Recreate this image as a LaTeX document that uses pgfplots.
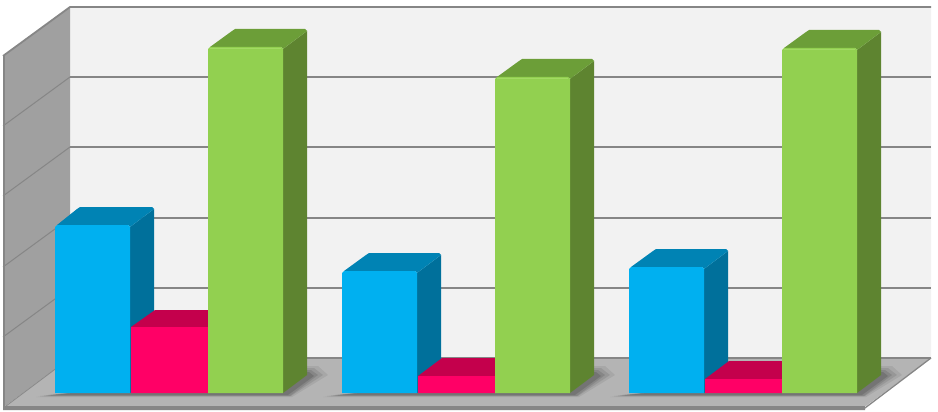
\documentclass[border=0pt]{standalone}
\usepackage{pgfplots}
\usepackage{pgfplotstable}
\pgfplotsset{compat=1.18}
\definecolor{wall}{RGB}{242,242,242}
\definecolor{sidewall}{RGB}{160,160,160}
\definecolor{floorc}{RGB}{180,180,180}
\definecolor{edge}{RGB}{134,134,134}
\definecolor{bluef}{RGB}{0,176,240}
\definecolor{bluet}{RGB}{0,131,180}
\definecolor{blues}{RGB}{0,112,155}
\definecolor{redf}{RGB}{255,0,102}
\definecolor{redt}{RGB}{196,0,76}
\definecolor{greenf}{RGB}{146,208,80}
\definecolor{greenh}{RGB}{162,218,100}
\definecolor{greent}{RGB}{108,158,56}
\definecolor{greens}{RGB}{94,132,48}
\pgfplotstableread{
x y
36 397
292 397
328 375
318 366
290 366
36 397
}\shadowA
\pgfplotstableread{
x y
40 396
291 396
323 375
314 368
290 368
40 396
}\shadowB
\pgfplotstableread{
x y
44 396
290 396
318 375
311 370
290 370
44 396
}\shadowC
\pgfplotstableread{
x y
48 395
288 395
314 376
309 372
290 372
48 395
}\shadowD
\begin{document}
\begin{tikzpicture}
\begin{axis}[
    scale only axis,
    width=938pt,
    height=412pt,
    xmin=0, xmax=938,
    ymin=0, ymax=412,
    y dir=reverse,
    hide axis,
    every axis plot/.append style={forget plot, no markers, line join=round},
]
% page background, keeps the full frame
\addplot[fill=white, draw=none] coordinates {(0,0) (938,0) (938,412) (0,412) (0,0)};
% walls and floor
\addplot[fill=wall, draw=none] coordinates {(70,7) (931,7) (931,358) (70,358) (70,7)};
\addplot[fill=sidewall, draw=none] coordinates {(4,56) (70,7) (70,358) (4,407) (4,56)};
\addplot[fill=floorc, draw=none] coordinates {(6,406) (70,358) (931,358) (866,406) (6,406)};
\addplot[fill=edge, draw=none] coordinates {(3,406) (865,406) (865,410) (3,410) (3,406)};
\addplot[edge, line width=1.3pt] coordinates {(931,358) (865,408)};
\addplot[edge, line width=1.2pt] coordinates {(70,358) (931,358)};
\addplot[edge, line width=0.8pt] coordinates {(70,358) (6,406)};
\addplot[edge, line width=1.5pt] coordinates {(4,56) (4,407)};
% grid: back wall and side wall
\addplot[edge, line width=1.8pt] coordinates {(3,56) (70,7) (931,7)};
\addplot[edge, line width=1pt] coordinates {(3,126) (70,77)};
\addplot[edge, line width=1pt] coordinates {(3,196) (70,147)};
\addplot[edge, line width=1pt] coordinates {(3,267) (70,218)};
\addplot[edge, line width=1pt] coordinates {(3,337) (70,288)};
\addplot[edge, line width=1.8pt] coordinates {(70,77) (931,77)};
\addplot[edge, line width=1.8pt] coordinates {(70,147) (931,147)};
\addplot[edge, line width=1.8pt] coordinates {(70,218) (931,218)};
\addplot[edge, line width=1.8pt] coordinates {(70,288) (931,288)};
% shadows on the floor, one per group
\pgfplotsinvokeforeach{0,287,574}{
\addplot[fill=black, fill opacity=0.07, draw=none] table[x expr=\thisrow{x}+#1, y=y] {\shadowA};
\addplot[fill=black, fill opacity=0.09, draw=none] table[x expr=\thisrow{x}+#1, y=y] {\shadowB};
\addplot[fill=black, fill opacity=0.11, draw=none] table[x expr=\thisrow{x}+#1, y=y] {\shadowC};
\addplot[fill=black, fill opacity=0.13, draw=none] table[x expr=\thisrow{x}+#1, y=y] {\shadowD};
}
% group 1
\addplot[fill=blues, draw=none] coordinates {(130,227) (154,209) (154,375) (130,393) (130,227)};
\addplot[fill=bluet, draw=none] coordinates {(57,225) (77,209) (80,207) (152,207) (154,209) (130,227) (128,225) (57,225)};
\addplot[fill=bluef, draw=none] coordinates {(55,227) (57,225) (128,225) (130,227) (130,393) (55,393) (55,227)};
\addplot[fill=redt, draw=none] coordinates {(131,327) (155,310) (208,310) (208,327) (131,327)};
\addplot[fill=redf, draw=none] coordinates {(131,327) (208,327) (208,393) (131,393) (131,327)};
\addplot[fill=greens, draw=none] coordinates {(283,49) (307,31) (307,375) (283,393) (283,49)};
\addplot[fill=greent, draw=none] coordinates {(210,47) (232,31) (235,29) (305,29) (307,31) (283,49) (281,47) (210,47)};
\addplot[fill=greenf, draw=none] coordinates {(208,49) (210,47) (281,47) (283,49) (283,393) (208,393) (208,49)};
\addplot[greenh, line width=1pt] coordinates {(210,48.5) (281,48.5)};
% group 2
\addplot[fill=blues, draw=none] coordinates {(417,273) (441,255) (441,375) (417,393) (417,273)};
\addplot[fill=bluet, draw=none] coordinates {(344,271) (366,255) (369,253) (439,253) (441,255) (417,273) (415,271) (344,271)};
\addplot[fill=bluef, draw=none] coordinates {(342,273) (344,271) (415,271) (417,273) (417,393) (342,393) (342,273)};
\addplot[fill=redt, draw=none] coordinates {(418,376) (442,358) (495,358) (495,376) (418,376)};
\addplot[fill=redf, draw=none] coordinates {(418,376) (495,376) (495,393) (418,393) (418,376)};
\addplot[fill=greens, draw=none] coordinates {(570,79) (594,61) (594,375) (570,393) (570,79)};
\addplot[fill=greent, draw=none] coordinates {(497,77) (519,61) (522,59) (592,59) (594,61) (570,79) (568,77) (497,77)};
\addplot[fill=greenf, draw=none] coordinates {(495,79) (497,77) (568,77) (570,79) (570,393) (495,393) (495,79)};
\addplot[greenh, line width=1pt] coordinates {(497,78.5) (568,78.5)};
% group 3
\addplot[fill=blues, draw=none] coordinates {(704,269) (728,251) (728,375) (704,393) (704,269)};
\addplot[fill=bluet, draw=none] coordinates {(631,267) (653,251) (656,249) (726,249) (728,251) (704,269) (702,267) (631,267)};
\addplot[fill=bluef, draw=none] coordinates {(629,269) (631,267) (702,267) (704,269) (704,393) (629,393) (629,269)};
\addplot[fill=redt, draw=none] coordinates {(705,379) (729,361) (782,361) (782,379) (705,379)};
\addplot[fill=redf, draw=none] coordinates {(705,379) (782,379) (782,393) (705,393) (705,379)};
\addplot[fill=greens, draw=none] coordinates {(857,50) (881,32) (881,375) (857,393) (857,50)};
\addplot[fill=greent, draw=none] coordinates {(784,48) (806,32) (809,30) (879,30) (881,32) (857,50) (855,48) (784,48)};
\addplot[fill=greenf, draw=none] coordinates {(782,50) (784,48) (855,48) (857,50) (857,393) (782,393) (782,50)};
\addplot[greenh, line width=1pt] coordinates {(784,49.5) (855,49.5)};
\end{axis}
\end{tikzpicture}
\end{document}
